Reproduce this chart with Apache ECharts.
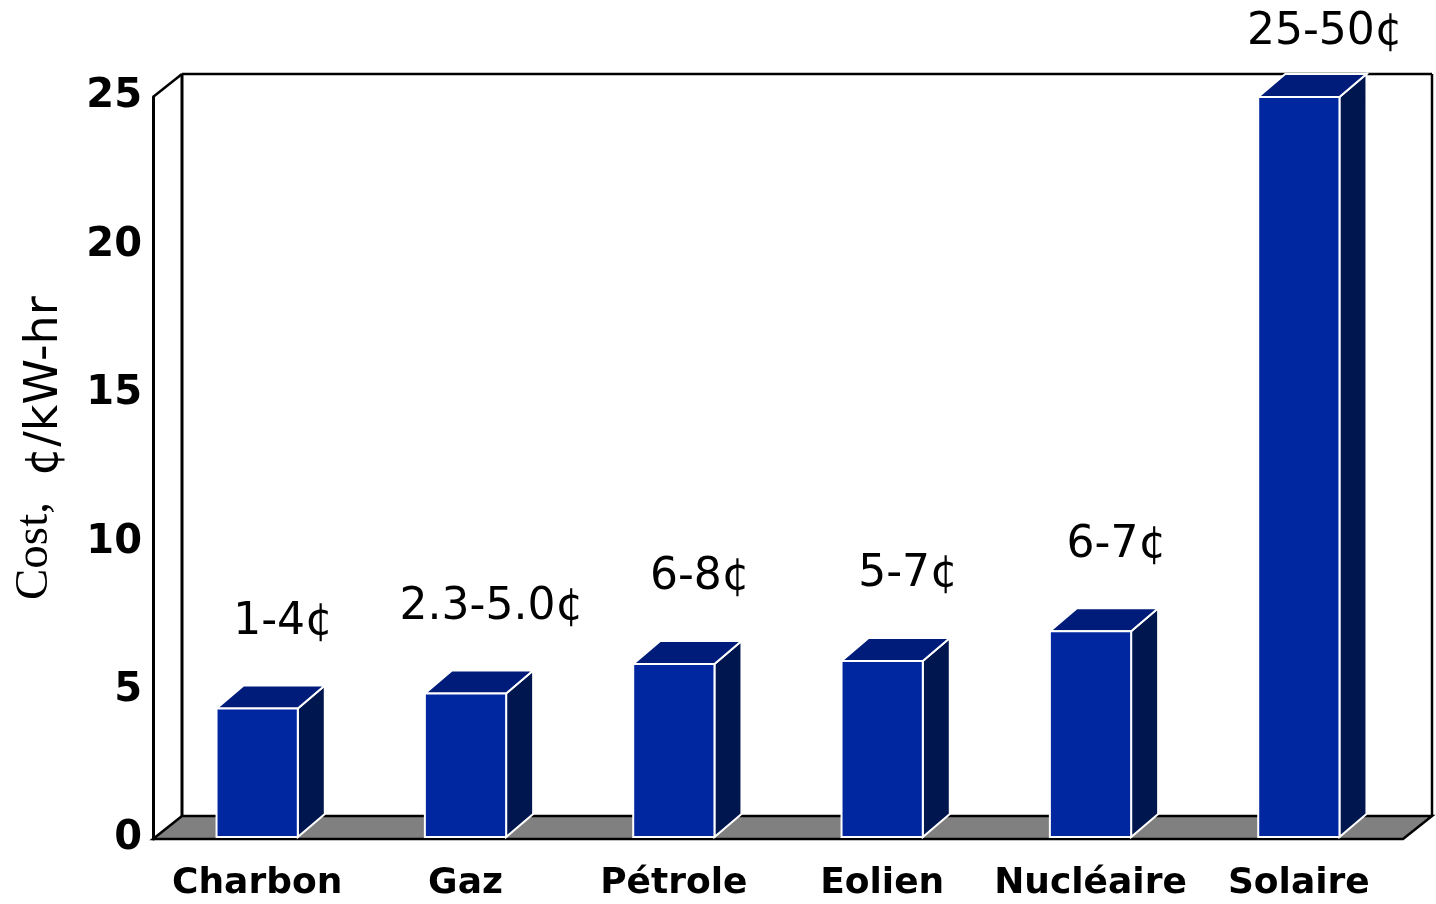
<!DOCTYPE html>
<html>
<head>
<meta charset="utf-8">
<script src="https://cdn.jsdelivr.net/npm/echarts@6/dist/echarts.min.js"></script>
<style>
html,body{margin:0;padding:0;background:#fff;}
#chart{width:1436px;height:904px;}
</style>
</head>
<body>
<div id="chart"></div>
<script>
// ---- data ----
const categories = ['Charbon', 'Gaz', 'Pétrole', 'Eolien', 'Nucléaire', 'Solaire'];
const costs = [4.4, 4.9, 5.9, 6.0, 7.0, 25.0];
const rangeLabels = ['1-4¢', '2.3-5.0¢', '6-8¢', '5-7¢', '6-7¢', '25-50¢'];
const yMin = 0, yMax = 25, yStep = 5;
const yTitleMain = 'Cost,';
const yTitleUnit = '¢/kW-hr';

// ---- style ----
const FRONT = '#0027a0', TOP = '#001c7a', SIDE = '#00164f';
const FLOOR = '#808080';
const DEPTH_X = 28, DEPTH_Y = -23;

const chart = echarts.init(document.getElementById('chart'));

function renderFrame(params, api) {
  const cs = params.coordSys;
  const x = cs.x, y = cs.y, w = cs.width, h = cs.height;
  const dx = DEPTH_X + 1, dy = DEPTH_Y;
  const line = (x1, y1, x2, y2, lw) => ({
    type: 'line', shape: {x1, y1, x2, y2},
    style: {stroke: '#000', lineWidth: lw}
  });
  return {
    type: 'group',
    children: [
      {type: 'polygon', shape: {points: [[x, y + h], [x + dx, y + h + dy], [x + w + dx, y + h + dy], [x + w, y + h]]},
       style: {fill: FLOOR, stroke: '#000', lineWidth: 2.5, lineJoin: 'miter'}},
      line(x + dx, y + dy, x + dx, y + h + dy, 3),
      line(x + dx, y + dy, x + w + dx, y + dy, 2.5),
      line(x + w + dx, y + dy, x + w + dx, y + h + dy, 2.5),
      line(x, y, x + dx, y + dy, 2.5)
    ]
  };
}

function renderBar(params, api) {
  const i = api.value(0), v = api.value(1);
  const top = api.coord([i, v]);
  const base = api.coord([i, 0]);
  const bw = api.size([1, 0])[0] * 0.39;
  const x0 = top[0] - bw / 2, x1 = top[0] + bw / 2;
  const yT = top[1], yB = base[1] - 2;
  const dx = DEPTH_X - 1, dy = DEPTH_Y;
  const edge = {stroke: '#ffffff', lineWidth: 2, lineJoin: 'miter'};
  return {
    type: 'group',
    children: [
      {type: 'polygon', shape: {points: [[x1, yT], [x1 + dx, yT + dy], [x1 + dx, yB + dy], [x1, yB]]},
       style: Object.assign({fill: SIDE}, edge)},
      {type: 'polygon', shape: {points: [[x0, yT], [x1, yT], [x1 + dx, yT + dy], [x0 + dx, yT + dy]]},
       style: Object.assign({fill: TOP}, edge)},
      {type: 'rect', shape: {x: x0, y: yT, width: bw, height: yB - yT},
       style: Object.assign({fill: FRONT}, edge)},
      {type: 'text', x: top[0] + 26, y: Math.max(yT - 86, 33),
       style: {text: rangeLabels[i], fill: '#000', fontFamily: 'DejaVu Sans', fontSize: 44,
               align: 'center', verticalAlign: 'middle'}}
    ]
  };
}

chart.setOption({
  animation: false,
  backgroundColor: '#ffffff',
  grid: {left: 153, right: 33, top: 97, bottom: 65, containLabel: false},
  xAxis: {
    type: 'category',
    data: categories,
    boundaryGap: true,
    axisLine: {show: false},
    axisTick: {show: false},
    splitLine: {show: false},
    axisLabel: {interval: 0, hideOverlap: false, color: '#000', fontFamily: 'DejaVu Sans',
                fontWeight: 'bold', fontSize: 36, margin: 27}
  },
  yAxis: {
    type: 'value',
    min: yMin, max: yMax, interval: yStep,
    axisLine: {show: true, lineStyle: {color: '#000', width: 3}},
    axisTick: {show: false},
    splitLine: {show: false},
    axisLabel: {color: '#000', fontFamily: 'DejaVu Sans', fontWeight: 'bold', fontSize: 40, margin: 11}
  },
  graphic: [
    {
      type: 'text',
      x: 35, y: 600,
      rotation: Math.PI / 2,
      style: {text: yTitleMain, align: 'left', verticalAlign: 'middle', fill: '#000',
              fontFamily: '"Liberation Serif", "DejaVu Serif", serif', fontSize: 47}
    },
    {
      type: 'text',
      x: 45, y: 476,
      rotation: Math.PI / 2,
      style: {text: yTitleUnit, align: 'left', verticalAlign: 'middle', fill: '#000',
              fontFamily: 'DejaVu Sans', fontSize: 46}
    }
  ],
  series: [
    {
      type: 'custom',
      z: 1,
      silent: true,
      renderItem: renderFrame,
      data: [[0, 0]],
      clip: false
    },
    {
      type: 'custom',
      z: 2,
      renderItem: renderBar,
      encode: {x: 0, y: 1},
      data: costs.map((v, i) => [i, v]),
      clip: false
    }
  ]
});
</script>
</body>
</html>
